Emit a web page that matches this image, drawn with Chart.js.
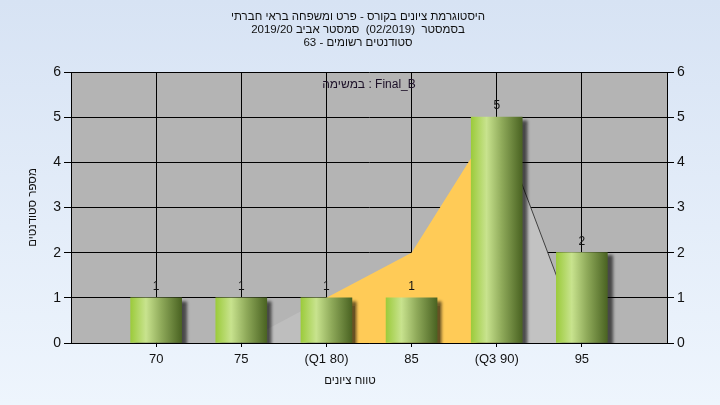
<!DOCTYPE html>
<html>
<head>
<meta charset="utf-8">
<script src="https://cdn.jsdelivr.net/npm/chart.js@4.4.0/dist/chart.umd.min.js"></script>
<style>
  html, body { margin: 0; padding: 0; background: #e4edf8; }
  #wrap { width: 720px; height: 405px; }
</style>
</head>
<body>
<div id="wrap"><canvas id="chart" width="720" height="405"></canvas></div>
<script>
// grade buckets and the number of students in each
const categories = [70, 75, 80, 85, 90, 95];
const tickLabels = ['70', '75', '(Q1 80)', '85', '(Q3 90)', '95'];
const studentCounts = [1, 1, 1, 1, 5, 2];
// background curve (highlighted between Q1 and Q3)
const curveValues = [0, 0, 1, 2, 5, 0];
const q1 = 80, q3 = 90;
const yTicks = [0, 1, 2, 3, 4, 5, 6];

const titleLines = [
    'היסטוגרמת ציונים בקורס - פרט ומשפחה בראי חברתי',
    'בסמסטר  (02/2019)  סמסטר אביב 2019/20',
    'סטודנטים רשומים - 63'
];
const assignmentLabel = 'Final_B : במשימה';
const xTitle = 'טווח ציונים';
const yTitle = 'מספר סטודנטים';

const barWidth = 51;
const titleFont = '11.5px "Liberation Sans", Arial, sans-serif';
const labelFont = '12px "Liberation Sans", Arial, sans-serif';

// split the curve into three pieces so the middle one can be yellow
function curvePart(test) {
    return categories
        .map((c, i) => ({ x: c, y: curveValues[i] }))
        .filter(p => test(p.x));
}

function barGradient(context) {
    const chart = context.chart;
    if (!chart.chartArea || context.type !== 'data') return '#a8cf55';
    const cx = chart.scales.x.getPixelForValue(context.raw.x);
    const g = chart.ctx.createLinearGradient(cx - barWidth / 2, 0, cx + barWidth / 2, 0);
    g.addColorStop(0, '#9ccb3c');
    g.addColorStop(0.3, '#c8e38e');
    g.addColorStop(0.6, '#8faa5a');
    g.addColorStop(1, '#4a6322');
    return g;
}

const backgroundPlugin = {
    id: 'backgroundPlugin',
    beforeDraw(chart) {
        const { ctx, chartArea } = chart;
        ctx.save();
        const g = ctx.createLinearGradient(0, 0, 0, chart.height);
        g.addColorStop(0, '#d7e3f4');
        g.addColorStop(1, '#eef5fd');
        ctx.fillStyle = g;
        ctx.fillRect(0, 0, chart.width, chart.height);
        ctx.fillStyle = '#b4b4b4';
        ctx.fillRect(chartArea.left, chartArea.top, chartArea.right - chartArea.left, chartArea.bottom - chartArea.top);
        ctx.restore();
    }
};

// shadow behind the bars
const shadowPlugin = {
    id: 'shadowPlugin',
    beforeDatasetDraw(chart, args) {
        if (args.meta.type !== 'bar') return;
        const ctx = chart.ctx;
        ctx.save();
        ctx.shadowColor = 'rgba(0,0,0,0.6)';
        ctx.shadowBlur = 3;
        ctx.shadowOffsetX = 5;
        ctx.shadowOffsetY = 3;
    },
    afterDatasetDraw(chart, args) {
        if (args.meta.type !== 'bar') return;
        chart.ctx.restore();
    }
};

const textPlugin = {
    id: 'textPlugin',
    afterDatasetsDraw(chart) {
        const { ctx, chartArea } = chart;
        ctx.save();
        ctx.font = labelFont;
        ctx.fillStyle = '#111';
        ctx.textAlign = 'center';
        ctx.textBaseline = 'middle';
        ctx.direction = 'rtl';

        // value labels over the bars
        const meta = chart.getDatasetMeta(0);
        meta.data.forEach((bar, i) => {
            ctx.fillText(String(studentCounts[i]), bar.x, bar.y - 11);
        });

        ctx.fillStyle = '#1c1028';
        ctx.fillText(assignmentLabel, (chartArea.left + chartArea.right) / 2, chartArea.top + 13);

        ctx.font = titleFont;
        ctx.fillStyle = '#111';
        titleLines.forEach((line, i) => ctx.fillText(line, 358, 17 + i * 13));
        ctx.fillText(xTitle, 350, 381);

        ctx.translate(33, (chartArea.top + chartArea.bottom) / 2);
        ctx.rotate(-Math.PI / 2);
        ctx.fillText(yTitle, 0, 0);
        ctx.restore();
    }
};

const tickFontY = { family: '"Liberation Sans", Arial, sans-serif', size: 14 };
const tickFontX = { family: '"Liberation Sans", Arial, sans-serif', size: 13 };

new Chart(document.getElementById('chart'), {
    type: 'bar',
    data: {
        datasets: [
            {
                type: 'bar',
                data: categories.map((c, i) => ({ x: c, y: studentCounts[i] })),
                backgroundColor: barGradient,
                borderWidth: 0,
                barThickness: barWidth,
                order: 0
            },
            {
                type: 'line',
                data: curvePart(x => x <= q1),
                fill: 'origin',
                backgroundColor: '#bebebe',
                borderWidth: 0,
                pointRadius: 0,
                order: 1
            },
            {
                type: 'line',
                data: curvePart(x => x >= q1 && x <= q3),
                fill: 'origin',
                backgroundColor: '#ffcb57',
                borderWidth: 0,
                pointRadius: 0,
                order: 1
            },
            {
                type: 'line',
                data: curvePart(x => x >= q3),
                fill: 'origin',
                backgroundColor: '#c2c2c2',
                borderColor: '#404040',
                borderWidth: 1,
                pointRadius: 0,
                order: 1
            }
        ]
    },
    options: {
        responsive: false,
        animation: false,
        layout: { padding: { top: 72, left: 0, right: 0, bottom: 0 } },
        plugins: {
            legend: { display: false },
            tooltip: { enabled: false },
            title: { display: false }
        },
        scales: {
            x: {
                type: 'linear',
                min: 65,
                max: 100,
                offset: false,
                afterBuildTicks: scale => { scale.ticks = categories.map(v => ({ value: v })); },
                afterFit: scale => { scale.height = 62; },
                grid: { offset: false, color: '#000', lineWidth: 1, tickLength: 4 },
                border: { color: '#000', width: 1 },
                ticks: {
                    autoSkip: false,
                    maxRotation: 0,
                    padding: 5,
                    color: '#111',
                    font: tickFontX,
                    callback: value => tickLabels[categories.indexOf(value)] ?? ''
                }
            },
            y: {
                position: 'left',
                min: 0,
                max: 6,
                afterBuildTicks: scale => { scale.ticks = yTicks.map(v => ({ value: v })); },
                afterFit: scale => { scale.width = 71; },
                grid: { color: '#000', lineWidth: 1, tickLength: 7 },
                border: { color: '#000', width: 1 },
                ticks: { padding: 3, color: '#111', font: tickFontY }
            },
            y2: {
                position: 'right',
                min: 0,
                max: 6,
                afterBuildTicks: scale => { scale.ticks = yTicks.map(v => ({ value: v })); },
                afterFit: scale => { scale.width = 53; },
                grid: { drawOnChartArea: false, color: '#000', lineWidth: 1, tickLength: 7 },
                border: { color: '#000', width: 1 },
                ticks: { padding: 3, color: '#111', font: tickFontY }
            }
        }
    },
    plugins: [backgroundPlugin, shadowPlugin, textPlugin]
});
</script>
</body>
</html>
